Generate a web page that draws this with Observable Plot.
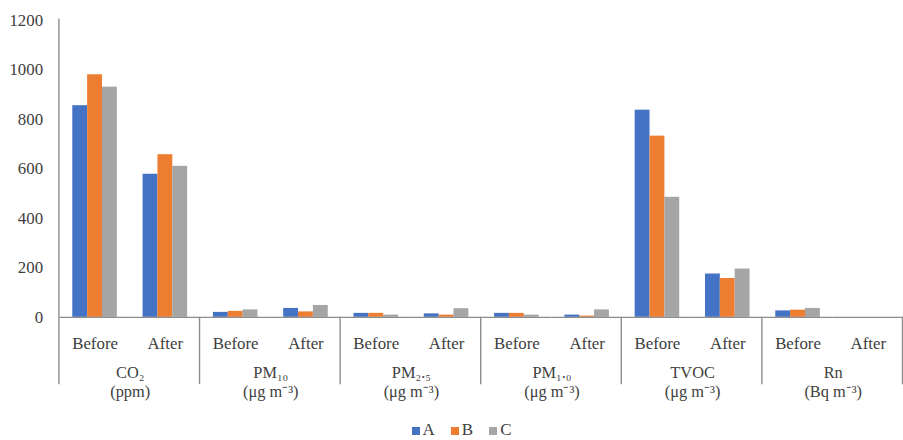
<!DOCTYPE html>
<html><head><meta charset="utf-8">
<script src="https://cdn.jsdelivr.net/npm/d3@7"></script>
<script src="https://cdn.jsdelivr.net/npm/@observablehq/plot@0.6"></script>
<style>
html,body{margin:0;padding:0;background:#fff;overflow:hidden;width:903px;height:440px;}
#chart{position:absolute;left:0;top:0;}
#legend{position:absolute;left:0;top:422px;width:903px;display:flex;justify-content:center;padding-left:20px;box-sizing:border-box;font:17px "Liberation Serif",serif;line-height:16px;color:#404040;}
.item{display:flex;align-items:baseline;margin:0 8px;}
.sw{display:inline-block;width:8px;height:8px;margin-right:3px;}
</style></head><body>
<div id="chart"></div><div id="legend"></div>
<script>
// ---- data ----
const groups = ["CO2", "PM10", "PM2.5", "PM1.0", "TVOC", "Rn"];
const groupNames = ["CO₂", "PM₁₀", "PM₂.₅", "PM₁.₀", "TVOC", "Rn"];
const groupUnits = ["(ppm)", "(μg m⁻³)", "(μg m⁻³)", "(μg m⁻³)", "(μg m⁻³)", "(Bq m⁻³)"];
const periods = ["Before", "After"];
const series = ["A", "B", "C"];
const seriesColors = ["#4472C4", "#ED7D31", "#A5A5A5"];
// order: CO2 Before, CO2 After, PM10 Before, PM10 After, ... Rn Before, Rn After
const valuesA = [855, 578, 20, 36, 16, 14, 16, 9, 837, 175, 26, 0];
const valuesB = [980, 657, 24, 22, 16, 9, 16, 5, 732, 157, 29, 0];
const valuesC = [930, 610, 30, 48, 9, 35, 9, 30, 485, 195, 36, 0];
const yTicks = [0, 200, 400, 600, 800, 1000, 1200];

// ---- build table ----
const seriesValues = [valuesA, valuesB, valuesC];
const keys = [];
groups.forEach(g => periods.forEach(p => keys.push(g + "|" + p)));
const rows = [];
series.forEach((s, si) => keys.forEach((k, ki) => rows.push({key: k, series: s, value: seriesValues[si][ki]})));
const groupRows = groups.map((g, i) => ({key: g + "|Before", label: groupNames[i] + "\n" + groupUnits[i]}));

const W = 912, H = 420, ML = 60, MR = 0, MT = 20, MB = 100;
const serif = "Liberation Serif, Times New Roman, serif";
const ink = "#404040";
const lineColor = "#8c8c8c";

const plot = Plot.plot({
  width: W, height: H,
  marginLeft: ML, marginRight: MR, marginTop: MT, marginBottom: MB,
  style: {fontFamily: serif, color: ink, background: "transparent"},
  fx: {domain: keys, padding: 0, axis: null, label: null},
  x: {domain: series, paddingInner: 0, paddingOuter: 0.766, axis: null},
  y: {domain: [0, 1200], axis: null, label: null},
  color: {domain: series, range: seriesColors},
  marks: [
    Plot.axisY({ticks: yTicks, tickSize: 0, tickPadding: 17, fontSize: 17, fill: ink, label: null,
      tickFormat: d => String(d)}),
    Plot.barY(rows, {fx: "key", x: "series", y: "value", fill: "series"}),
    Plot.ruleY([0], {stroke: lineColor, strokeWidth: 1.4}),
    Plot.axisFx({anchor: "bottom", tickSize: 0, tickPadding: 20, fontSize: 17, fill: ink, label: null,
      tickFormat: k => k.split("|")[1]}),
    Plot.text(groupRows, {fx: "key", text: "label", frameAnchor: "bottom-right", textAnchor: "middle",
      lineAnchor: "top", dy: 47, lineHeight: 1.2, fontSize: 16.5, fill: ink})
  ]
});
document.getElementById("chart").appendChild(plot);

// separators (axis decoration) from the library's scales
const fxs = plot.scale("fx"), ys = plot.scale("y");
const y0 = ys.apply(0), yTop = ys.apply(1200);
const svg = d3.select(plot);
const bounds = groups.map(g => fxs.apply(g + "|Before"));
bounds.push(fxs.range[1]);
bounds.forEach((x, i) => {
  const xx = Math.round(x) - 0.5;
  svg.append("line").attr("x1", xx).attr("x2", xx)
    .attr("y1", i === 0 ? yTop - 1 : y0).attr("y2", y0 + 68)
    .attr("stroke", lineColor).attr("stroke-width", 1.4);
});

// legend
const lg = d3.select("#legend");
series.forEach((s, i) => {
  const it = lg.append("span").attr("class", "item");
  it.append("span").attr("class", "sw").style("background", seriesColors[i]);
  it.append("span").text(s);
});
</script>
</body></html>
